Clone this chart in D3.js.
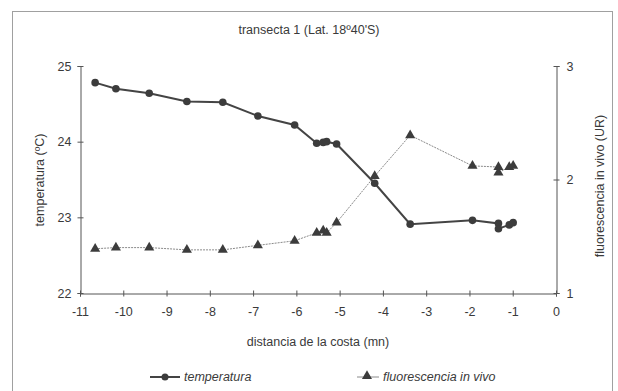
<!DOCTYPE html>
<html>
<head>
<meta charset="utf-8">
<script src="https://cdn.jsdelivr.net/npm/d3@7"></script>
<style>
  html, body { margin: 0; padding: 0; background: #fff; }
  svg { display: block; }
  text { font-family: "Liberation Sans", Arial, sans-serif; fill: #3a3a3a; }
</style>
</head>
<body>
<svg id="chart" width="618" height="391"></svg>
<script>
// Stations along transect 1: distance from the coast (nautical miles)
const distancia = [-10.65, -10.17, -9.40, -8.53, -7.70, -6.89, -6.04, -5.53, -5.38, -5.30,
                   -5.07, -4.19, -3.37, -1.93, -1.33, -1.33, -1.08, -0.99];
// Surface temperature (ºC)
const temperatura = [24.78, 24.70, 24.64, 24.53, 24.52, 24.34, 24.22, 23.98, 23.99, 24.00,
                     23.97, 23.45, 22.91, 22.96, 22.92, 22.85, 22.90, 22.93];
// In vivo fluorescence (relative units)
const fluorescencia = [1.39, 1.40, 1.40, 1.38, 1.38, 1.42, 1.46, 1.53, 1.55, 1.53,
                       1.62, 2.03, 2.39, 2.12, 2.11, 2.06, 2.11, 2.12];

const xTicks = [-11, -10, -9, -8, -7, -6, -5, -4, -3, -2, -1, 0];
const tTicks = [22, 23, 24, 25];
const fTicks = [1, 2, 3];

const svg = d3.select("#chart");
const FS = 12.5;
const fmt = d => String(d);   // plain hyphen for negatives

// outer frame
svg.append("rect").attr("x", 12.5).attr("y", 11.5).attr("width", 600).attr("height", 385)
  .attr("fill", "none").attr("stroke", "#a0a0a0").attr("stroke-width", 1);

const x = d3.scaleLinear().domain([-11, 0]).range([80, 556]);
const yT = d3.scaleLinear().domain([22, 25]).range([293, 66]);
const yF = d3.scaleLinear().domain([1, 3]).range([293, 66]);

// title
svg.append("text").attr("x", 309).attr("y", 34).attr("text-anchor", "middle")
  .attr("font-size", FS).text("transecta 1 (Lat. 18º40'S)");

function styleAxis(g) {
  g.select(".domain").attr("stroke", "#555");
  g.selectAll(".tick line").attr("stroke", "#555");
  g.selectAll(".tick text").attr("font-size", FS).attr("font-family", "Liberation Sans, Arial, sans-serif").attr("fill", "#3a3a3a");
}

// x axis (cross ticks)
const gx = svg.append("g").attr("transform", "translate(0,293.5)")
  .call(d3.axisBottom(x).tickValues(xTicks).tickFormat(fmt).tickSizeOuter(0).tickSize(3).tickPadding(11));
gx.selectAll(".tick line").attr("y1", -3);
styleAxis(gx);

// left axis
const gl = svg.append("g").attr("transform", "translate(80.5,0)")
  .call(d3.axisLeft(yT).tickValues(tTicks).tickFormat(fmt).tickSizeOuter(0).tickSize(3).tickPadding(6));
gl.selectAll(".tick line").attr("x1", 3);
styleAxis(gl);

// right axis
const gr = svg.append("g").attr("transform", "translate(556.5,0)")
  .call(d3.axisRight(yF).tickValues(fTicks).tickFormat(fmt).tickSizeOuter(0).tickSize(3).tickPadding(7));
gr.selectAll(".tick line").attr("x1", -3);
styleAxis(gr);

// axis titles
svg.append("text").attr("x", 318).attr("y", 346).attr("text-anchor", "middle")
  .attr("font-size", FS).text("distancia de la costa (mn)");
svg.append("text").attr("transform", "translate(44,180) rotate(-90)").attr("text-anchor", "middle")
  .attr("font-size", FS).text("temperatura (ºC)");
svg.append("text").attr("transform", "translate(604,186) rotate(-90)").attr("text-anchor", "middle")
  .attr("font-size", FS).text("fluorescencia in vivo (UR)");

const tri = d3.symbol().type(d3.symbolTriangle).size(44);

// fluorescence series
const fData = distancia.map((d, i) => [d, fluorescencia[i]]);
svg.append("path").datum(fData)
  .attr("d", d3.line().x(d => x(d[0])).y(d => yF(d[1])))
  .attr("fill", "none").attr("stroke", "#8a8a8a").attr("stroke-width", 1).attr("stroke-dasharray", "2,1");
svg.append("g").selectAll("path").data(fData).join("path")
  .attr("transform", d => `translate(${x(d[0])},${yF(d[1])})`)
  .attr("d", tri).attr("fill", "#3c3c3c");

// temperature series
const tData = distancia.map((d, i) => [d, temperatura[i]]);
svg.append("path").datum(tData)
  .attr("d", d3.line().x(d => x(d[0])).y(d => yT(d[1])))
  .attr("fill", "none").attr("stroke", "#444").attr("stroke-width", 2);
svg.append("g").selectAll("circle").data(tData).join("circle")
  .attr("cx", d => x(d[0])).attr("cy", d => yT(d[1])).attr("r", 3.8)
  .attr("fill", "#3c3c3c");

// legend
const ly = 377;
const leg = svg.append("g");
leg.append("line").attr("x1", 150).attr("x2", 180).attr("y1", ly).attr("y2", ly)
  .attr("stroke", "#444").attr("stroke-width", 2);
leg.append("circle").attr("cx", 165).attr("cy", ly).attr("r", 3.5).attr("fill", "#3c3c3c");
leg.append("text").attr("x", 184).attr("y", ly + 4).attr("font-size", FS).attr("font-style", "italic").text("temperatura");

leg.append("line").attr("x1", 357).attr("x2", 379).attr("y1", ly).attr("y2", ly)
  .attr("stroke", "#8a8a8a").attr("stroke-width", 1);
leg.append("path").attr("transform", `translate(367,${ly - 1})`).attr("d", tri).attr("fill", "#3c3c3c");
leg.append("text").attr("x", 383).attr("y", ly + 4).attr("font-size", FS).attr("font-style", "italic")
  .text("fluorescencia in vivo");
</script>
</body>
</html>
